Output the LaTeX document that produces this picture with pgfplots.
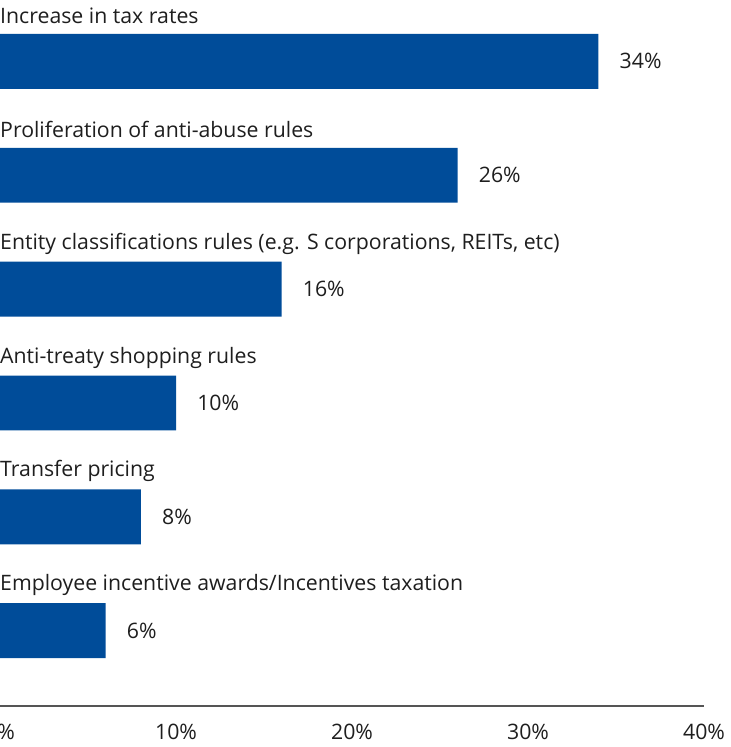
\documentclass[border=0pt]{standalone}
\usepackage{pgfplots}
\pgfplotsset{compat=1.18}
\usepackage{fontspec}
\setmainfont{Open Sans}
\definecolor{barblue}{RGB}{0,76,153}
\definecolor{txt}{RGB}{30,30,30}
\definecolor{axgray}{RGB}{85,85,85}
\newcommand{\fs}{\fontsize{21.3pt}{25pt}\selectfont}
\begin{document}
\begin{tikzpicture}
\fs
\begin{axis}[
  at={(0,0)}, anchor=south west,
  scale only axis, width=705pt, height=707pt,
  xmin=0, xmax=40,
  ymin=-0.539, ymax=5.662,
  y dir=reverse,
  axis x line=bottom, axis y line=none,
  axis line style={draw=axgray, line width=1.5pt, -},
  xtick={0,10,20,30,40},
  xticklabels={0\%,10\%,20\%,30\%,40\%},
  major tick length=0pt,
  xticklabel style={font=\fs, text=txt, yshift=-11pt},
  /pgf/number format/assume math mode=true,
  xbar, bar width=55pt,
  clip=false,
  point meta=explicit symbolic,
  nodes near coords,
  every node near coord/.append style={anchor=west, xshift=14pt, text=txt, font=\fs},
]
\addplot[fill=barblue, draw=none] table[meta=lab] {
x y lab
34 0 34\%
26 1 26\%
16 2 16\%
10 3 10\%
8 4 8\%
6 5 6\%
};
\node[anchor=west, inner sep=0pt, text=txt, font=\fs] at (axis cs:0,0) [yshift=45.5pt] {Increase in tax rates};
\node[anchor=west, inner sep=0pt, text=txt, font=\fs] at (axis cs:0,1) [yshift=45.5pt] {Proliferation of anti-abuse rules};
\node[anchor=west, inner sep=0pt, text=txt, font=\fs] at (axis cs:0,2) [yshift=45.5pt] {Entity classifications rules (e.g. S corporations, REITs, etc)};
\node[anchor=west, inner sep=0pt, text=txt, font=\fs] at (axis cs:0,3) [yshift=45.5pt] {Anti-treaty shopping rules};
\node[anchor=west, inner sep=0pt, text=txt, font=\fs] at (axis cs:0,4) [yshift=45.5pt] {Transfer pricing};
\node[anchor=west, inner sep=0pt, text=txt, font=\fs] at (axis cs:0,5) [yshift=45.5pt] {Employee incentive awards/Incentives taxation};
\end{axis}
\pgfresetboundingbox
\path[use as bounding box] (0,-41pt) rectangle (731pt,707pt);
\end{tikzpicture}
\end{document}
